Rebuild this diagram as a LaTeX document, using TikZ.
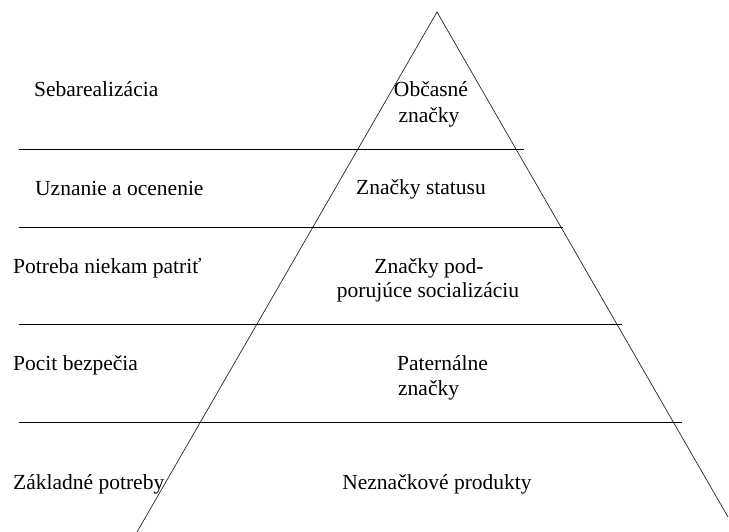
\documentclass[tikz,border=0pt]{standalone}
\usepackage{fontspec}
\setmainfont{Liberation Serif}
\begin{document}
\begin{tikzpicture}[x=1pt,y=-1pt,
  lbl/.style={inner sep=0pt,anchor=base west,font=\fontsize{21.5}{26}\selectfont},
  clbl/.style={inner sep=0pt,anchor=base,font=\fontsize{21.5}{26}\selectfont},
  rule/.style={line width=0.8pt,draw=black},
  edge/.style={line width=0.7pt,draw=black!85}]
\useasboundingbox (0,0) rectangle (729,532);
% triangle
\coordinate (apex) at (437,12);
\coordinate (bl) at (137,532);
\coordinate (br) at (728,517);
\draw[edge] (bl) -- (apex) -- (br);
% horizontal rules
\coordinate (h1a) at (19,149); \coordinate (h1b) at (524,149);
\coordinate (h2a) at (19,227); \coordinate (h2b) at (563,227);
\coordinate (h3a) at (19,324); \coordinate (h3b) at (622,324);
\coordinate (h4a) at (19,422); \coordinate (h4b) at (682,422);
\draw[rule] (h1a) -- (h1b);
\draw[rule] (h2a) -- (h2b);
\draw[rule] (h3a) -- (h3b);
\draw[rule] (h4a) -- (h4b);
% left labels
\node[lbl] (l1) at (34,97) {Sebarealizácia};
\node[lbl] (l2) at (35,196) {Uznanie a ocenenie};
\node[lbl] (l3) at (13,273) {Potreba niekam patriť};
\node[lbl] (l4) at (13,370) {Pocit bezpečia};
\node[lbl] (l5) at (13,489) {Základné potreby};
% pyramid labels
\node[clbl] (p1a) at (431,97) {Občasné};
\node[clbl] (p1b) at (429,123) {značky};
\node[clbl] (p2) at (421,195) {Značky statusu};
\node[clbl] (p3a) at (429,273) {Značky pod-};
\node[clbl] (p3b) at (428,298) {porujúce socializáciu};
\node[lbl] (p4a) at (397,370) {Paternálne};
\node[lbl] (p4b) at (398,395) {značky};
\node[clbl] (p5) at (437,489) {Neznačkové produkty};
\end{tikzpicture}
\end{document}
